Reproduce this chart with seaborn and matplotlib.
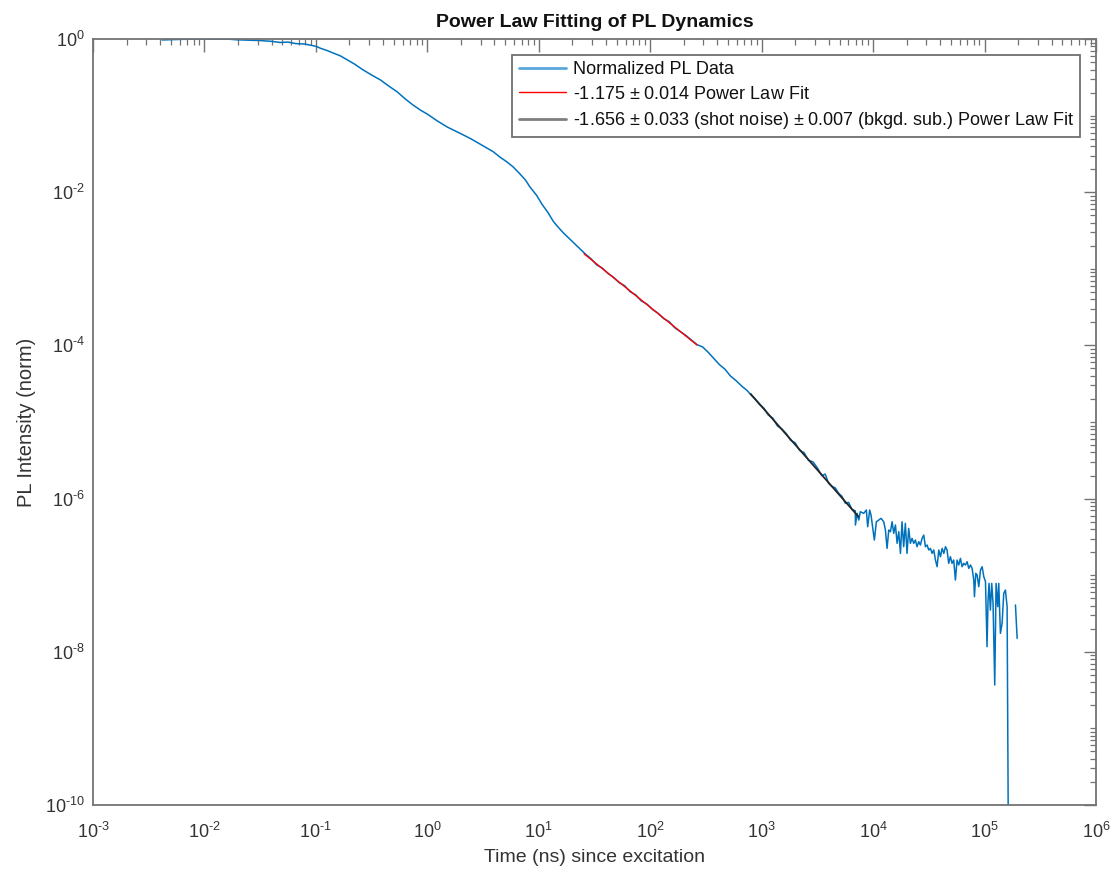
import numpy as np
import pandas as pd
import matplotlib
matplotlib.use("Agg")
import matplotlib.pyplot as plt
from matplotlib.ticker import LogLocator, FixedLocator, FuncFormatter, NullFormatter
import seaborn as sns

# ---- measured PL decay (log10 of time in ns, log10 of normalized intensity) ----
log_t_decay = [
    -2.38, -2.30, -2.20, -2.10, -2.00, -1.90, -1.80, -1.71, -1.60, -1.50,
    -1.40, -1.32, -1.25, -1.18, -1.10, -1.05, -1.00, -0.96, -0.90, -0.85,
    -0.78, -0.72, -0.65, -0.58, -0.50, -0.42, -0.35, -0.27, -0.20, -0.13,
    -0.06, 0.00, 0.09, 0.18, 0.25, 0.32, 0.40, 0.47, 0.53, 0.59,
    0.65, 0.71, 0.77, 0.83, 0.88, 0.92, 0.98, 1.03, 1.08, 1.13,
    1.17, 1.22, 1.27, 1.32, 1.37, 1.42, 1.47, 1.52, 1.57, 1.62,
    1.67, 1.72, 1.77, 1.82, 1.87, 1.92, 1.97, 2.02, 2.07, 2.12,
    2.17, 2.22, 2.27, 2.32, 2.37, 2.42, 2.47, 2.52, 2.57, 2.62,
    2.67, 2.72, 2.77, 2.82, 2.87, 2.90, 2.94, 2.98, 3.02, 3.06,
    3.10, 3.14, 3.18, 3.22, 3.26, 3.30, 3.34, 3.38, 3.42, 3.46,
    3.50, 3.54, 3.57, 3.60, 3.63, 3.66, 3.69, 3.72, 3.75, 3.78,
    3.81, 3.84,
    3.841, 3.856, 3.871, 3.885, 3.915, 3.939, 3.951, 3.969, 3.981, 4.011,
    4.029, 4.050, 4.071, 4.095, 4.110, 4.125, 4.140, 4.155, 4.170, 4.185,
    4.200, 4.215, 4.230, 4.245, 4.259, 4.274, 4.289, 4.304, 4.319, 4.334,
    4.349, 4.364, 4.379, 4.394, 4.409, 4.424, 4.439, 4.454, 4.469, 4.484,
    4.499, 4.514, 4.529, 4.544, 4.559, 4.574, 4.589, 4.604, 4.619, 4.634,
    4.649, 4.663, 4.678, 4.693, 4.708, 4.723, 4.738, 4.753, 4.768, 4.783,
    4.798, 4.813, 4.828, 4.843, 4.858, 4.873, 4.888, 4.903, 4.909, 4.921,
    4.933, 4.948, 4.963, 4.978, 4.993, 5.008, 5.022, 5.031, 5.040, 5.052,
    5.064, 5.076, 5.091, 5.103, 5.118, 5.127, 5.142, 5.157, 5.172, 5.187,
    5.202, 5.217,
]
log_I_decay = [
    -0.012, -0.008, -0.004, -0.002, 0.000, -0.002, 0.000, -0.010, -0.015, -0.020,
    -0.030, -0.045, -0.040, -0.060, -0.065, -0.080, -0.095, -0.12, -0.15, -0.18,
    -0.22, -0.27, -0.33, -0.40, -0.47, -0.535, -0.61, -0.69, -0.78, -0.86,
    -0.93, -0.98, -1.07, -1.15, -1.20, -1.25, -1.31, -1.37, -1.42, -1.47,
    -1.54, -1.60, -1.67, -1.76, -1.84, -1.93, -2.04, -2.16, -2.26, -2.38,
    -2.45, -2.53, -2.60, -2.67, -2.74, -2.81, -2.87, -2.95, -2.99, -3.06,
    -3.11, -3.18, -3.22, -3.30, -3.34, -3.42, -3.46, -3.53, -3.58, -3.65,
    -3.69, -3.77, -3.82, -3.87, -3.93, -3.99, -4.02, -4.09, -4.17, -4.25,
    -4.31, -4.40, -4.46, -4.53, -4.59, -4.64, -4.70, -4.77, -4.82, -4.91,
    -4.95, -5.05, -5.09, -5.15, -5.24, -5.27, -5.37, -5.40, -5.50, -5.52,
    -5.60, -5.70, -5.68, -5.80, -5.84, -5.86, -5.93, -5.97, -6.06, -6.05,
    -6.14, -6.16,
    -6.345, -6.193, -6.280, -6.171, -6.193, -6.149, -6.367, -6.149, -6.215, -6.541,
    -6.302, -6.280, -6.258, -6.302, -6.410, -6.650, -6.410, -6.432, -6.302, -6.454,
    -6.345, -6.584, -6.432, -6.715, -6.302, -6.628, -6.323, -6.715, -6.389, -6.584,
    -6.519, -6.584, -6.541, -6.628, -6.563, -6.606, -6.519, -6.476, -6.628, -6.606,
    -6.671, -6.650, -6.715, -6.671, -6.802, -6.889, -6.671, -6.758, -6.650, -6.715,
    -6.628, -6.671, -6.845, -6.758, -6.845, -6.802, -7.063, -6.802, -6.867, -6.780,
    -6.889, -6.845, -6.867, -6.824, -6.911, -6.867, -6.911, -7.063, -7.281, -6.976,
    -6.998, -7.150, -6.933, -6.889, -7.020, -7.085, -7.933, -7.324, -7.107, -7.455,
    -7.107, -7.368, -8.434, -7.107, -7.411, -7.107, -7.759, -7.629, -7.237, -7.194,
    -7.411, -11.5,
]
# last bins after the background-subtracted gap
log_t_end = [5.277, 5.292]
log_I_end = [-7.389, -7.825]

# ---- power-law fits: I = A * t^slope over the fitted window (ns) ----
fit1_slope, fit1_amp, fit1_range = -1.175, 0.0705, (25.5, 263.0)
fit2_slope, fit2_amp, fit2_range = -1.656, 1.48, (795.0, 7400.0)

label_data = "Normalized PL Data"
label_fit1 = "-1.175 $\\pm$ 0.014 Power Law Fit"
label_fit2 = "-1.656 $\\pm$ 0.033 (shot noise) $\\pm$ 0.007 (bkgd. sub.) Power Law Fit"

# ---- styling ----
sns.set_theme(style="white")
plt.rcParams["font.family"] = ["Liberation Sans", "DejaVu Sans"]
plt.rcParams["mathtext.fontset"] = "custom"
plt.rcParams["mathtext.rm"] = "Liberation Sans"
plt.rcParams["mathtext.it"] = "Liberation Sans:italic"
plt.rcParams["mathtext.bf"] = "Liberation Sans:bold"
plt.rcParams["mathtext.default"] = "regular"

axis_gray = "#737373"
text_gray = "#333333"
blue = "#0072BD"

df_main = pd.DataFrame({"t": 10.0 ** np.array(log_t_decay), "I": 10.0 ** np.array(log_I_decay)})
df_end = pd.DataFrame({"t": 10.0 ** np.array(log_t_end), "I": 10.0 ** np.array(log_I_end)})

t1 = np.geomspace(*fit1_range, 40)
t2 = np.geomspace(*fit2_range, 40)
df_fit1 = pd.DataFrame({"t": t1, "I": fit1_amp * t1 ** fit1_slope})
df_fit2 = pd.DataFrame({"t": t2, "I": fit2_amp * t2 ** fit2_slope})

fig = plt.figure(figsize=(11.15, 8.73), dpi=100)
ax = fig.add_axes([0.0834, 0.0779, 0.8996, 0.8774])
ax.set_xscale("log")
ax.set_yscale("log")

sns.lineplot(data=df_main, x="t", y="I", ax=ax, color=blue, lw=1.1,
             estimator=None, sort=False, label=label_data)
sns.lineplot(data=df_end, x="t", y="I", ax=ax, color=blue, lw=1.1,
             estimator=None, sort=False, label="_nolegend_")
sns.lineplot(data=df_fit1, x="t", y="I", ax=ax, color="#ff0000", lw=1.0,
             estimator=None, sort=False, label=label_fit1)
sns.lineplot(data=df_fit2, x="t", y="I", ax=ax, color="#262626", lw=1.3,
             estimator=None, sort=False, label=label_fit2)

ax.set_xlim(1e-3, 1e6)
ax.set_ylim(1e-10, 1e0)

# ticks: inward on all four sides, decade labels with a plain hyphen
ax.xaxis.set_major_locator(FixedLocator([10.0 ** k for k in range(-3, 7)]))
ax.xaxis.set_minor_locator(LogLocator(base=10, subs=np.arange(2, 10), numticks=50))
ax.yaxis.set_major_locator(FixedLocator([10.0 ** k for k in range(-10, 1, 2)]))
ax.yaxis.set_minor_locator(LogLocator(base=10, subs=np.arange(1, 10), numticks=50))


def decade_label(v, pos):
    e = int(round(np.log10(v)))
    if e < 0:
        return "10$^{\\text{-}%d}$" % (-e)
    return "10$^{%d}$" % e


ax.xaxis.set_major_formatter(FuncFormatter(decade_label))
ax.yaxis.set_major_formatter(FuncFormatter(decade_label))
ax.xaxis.set_minor_formatter(NullFormatter())
ax.yaxis.set_minor_formatter(NullFormatter())

ax.tick_params(which="both", direction="in", top=True, right=True,
               color=axis_gray, labelcolor=text_gray, labelsize=13)
ax.tick_params(which="major", length=9, width=1.0, pad=6)
ax.tick_params(which="minor", length=4.5, width=0.9)
ax.tick_params(axis="x", which="major", pad=12)

for s in ax.spines.values():
    s.set_color(axis_gray)
    s.set_linewidth(1.3)

ax.set_xlabel("Time (ns) since excitation", fontsize=14, color=text_gray, labelpad=5)
ax.set_ylabel("PL Intensity (norm)", fontsize=14.5, color=text_gray, labelpad=6)
ax.set_title("Power Law Fitting of PL Dynamics", fontsize=14, fontweight="bold",
             color="#111111", pad=9)

handles = [l for l in ax.get_lines() if not l.get_label().startswith("_")]
leg = ax.legend(handles=handles, labels=[h.get_label() for h in handles],
                loc="upper right", bbox_to_anchor=(0.984, 0.979), borderaxespad=0,
                fontsize=13, frameon=True, fancybox=False, framealpha=1,
                edgecolor="#6f6f6f", handlelength=2.6, handletextpad=0.4,
                labelspacing=0.4, borderpad=0.35)
leg.get_frame().set_linewidth(1.3)
for txt in leg.get_texts():
    txt.set_color("#111111")
leg_lines = leg.get_lines()
leg_lines[0].set_color("#5aa7dc")
leg_lines[0].set_linewidth(2.0)
leg_lines[2].set_color("#7f7f7f")
leg_lines[2].set_linewidth(2.0)

fig.savefig("out.png", dpi=100)
